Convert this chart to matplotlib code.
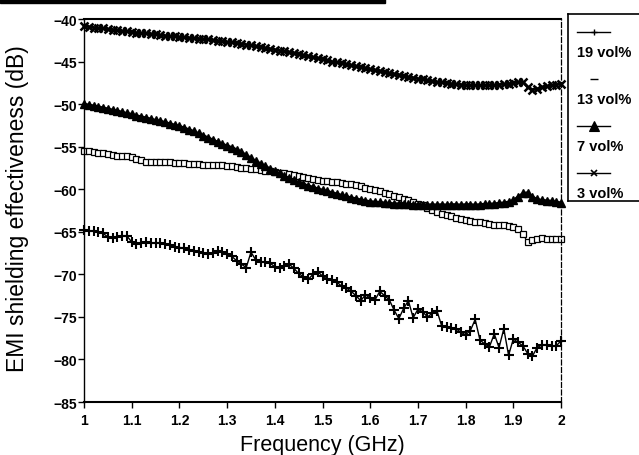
import numpy as np
import matplotlib
matplotlib.use("Agg")
import matplotlib.pyplot as plt
from matplotlib.patches import Rectangle

plt.rcParams['font.family'] = ['Liberation Sans', 'DejaVu Sans']

# frequency grid (GHz), 0.01 step
freq = np.round(np.arange(1.0, 2.0001, 0.01), 2)

# 3 vol% (top curve, x markers)
se_3 = [-40.8, -40.9, -41.0, -41.05, -41.1, -41.2, -41.25, -41.3, -41.4, -41.45,
        -41.55, -41.6, -41.65, -41.7, -41.75, -41.8, -41.9, -41.95, -42.0, -42.05,
        -42.1, -42.15, -42.2, -42.25, -42.3, -42.35, -42.4, -42.5, -42.55, -42.6,
        -42.7, -42.75, -42.85, -42.9, -43.0, -43.1, -43.2, -43.3, -43.4, -43.5,
        -43.6, -43.7, -43.8, -43.9, -44.0, -44.1, -44.25, -44.35, -44.5, -44.6,
        -44.75, -44.85, -45.0, -45.1, -45.2, -45.3, -45.45, -45.55, -45.65, -45.75,
        -45.9, -46.0, -46.1, -46.2, -46.35, -46.45, -46.55, -46.7, -46.8, -46.9,
        -47.0, -47.1, -47.2, -47.3, -47.4, -47.45, -47.5, -47.6, -47.65, -47.7,
        -47.75, -47.8, -47.8, -47.8, -47.8, -47.75, -47.75, -47.7, -47.65, -47.6,
        -47.5, -47.4, -47.4, -48.0, -48.3, -48.2, -48.0, -47.9, -47.8, -47.7,
        -47.6]

# 7 vol% (triangles)
se_7 = [-50.0, -50.1, -50.2, -50.3, -50.45, -50.55, -50.7, -50.8, -50.95, -51.1,
        -51.2, -51.35, -51.5, -51.6, -51.75, -51.9, -52.0, -52.15, -52.3, -52.45,
        -52.6, -52.8, -53.0, -53.2, -53.45, -53.7, -53.95, -54.2, -54.45, -54.7,
        -54.9, -55.1, -55.35, -55.65, -56.0, -56.35, -56.7, -57.0, -57.3, -57.6,
        -57.9, -58.15, -58.45, -58.7, -58.95, -59.2, -59.4, -59.6, -59.75, -59.95,
        -60.1, -60.25, -60.4, -60.55, -60.7, -60.85, -61.0, -61.1, -61.25, -61.35,
        -61.45, -61.5, -61.55, -61.6, -61.65, -61.7, -61.7, -61.75, -61.75, -61.8,
        -61.8, -61.8, -61.85, -61.8, -61.85, -61.8, -61.85, -61.8, -61.8, -61.85,
        -61.8, -61.8, -61.85, -61.8, -61.75, -61.75, -61.7, -61.65, -61.6, -61.5,
        -61.3, -60.9, -60.5, -60.4, -60.9, -61.2, -61.3, -61.35, -61.4, -61.5,
        -61.6]

# 13 vol% (open boxes)
se_13 = [-55.5, -55.55, -55.6, -55.7, -55.8, -55.9, -56.0, -56.05, -56.1, -56.15,
         -56.2, -56.4, -56.6, -56.75, -56.8, -56.8, -56.85, -56.8, -56.85, -56.9,
         -56.9, -56.95, -57.0, -57.0, -57.05, -57.1, -57.1, -57.15, -57.15, -57.2,
         -57.25, -57.3, -57.4, -57.5, -57.55, -57.6, -57.65, -57.7, -57.8, -57.85,
         -57.95, -58.05, -58.15, -58.25, -58.35, -58.45, -58.55, -58.7, -58.8, -58.9,
         -59.0, -59.05, -59.15, -59.2, -59.3, -59.35, -59.4, -59.5, -59.65, -59.8,
         -59.95, -60.1, -60.25, -60.45, -60.6, -60.8, -60.95, -61.1, -61.3, -61.5,
         -61.7, -61.9, -62.15, -62.4, -62.7, -62.9, -63.05, -63.2, -63.35, -63.5,
         -63.65, -63.75, -63.85, -63.9, -64.0, -64.1, -64.15, -64.2, -64.25, -64.3,
         -64.4, -64.7, -65.3, -66.2, -66.0, -65.8, -65.75, -65.8, -65.8, -65.85,
         -65.9]

# 19 vol% (bottom, jagged)
se_19 = [-64.8, -64.9, -64.9, -65.05, -65.2, -65.6, -65.7, -65.6, -65.5, -65.5,
         -66.2, -66.4, -66.3, -66.2, -66.35, -66.3, -66.3, -66.45, -66.6, -66.8,
         -66.85, -66.9, -67.1, -67.3, -67.4, -67.45, -67.6, -67.55, -67.3, -67.4,
         -67.6, -67.9, -68.4, -68.8, -69.2, -67.4, -68.3, -68.6, -68.5, -68.7,
         -69.1, -69.3, -69.0, -68.8, -69.3, -69.9, -70.3, -70.6, -70.0, -69.7,
         -70.2, -70.55, -70.7, -70.9, -71.4, -71.6, -72.0, -72.5, -73.1, -72.4,
         -72.8, -73.0, -72.0, -72.5, -73.0, -74.2, -75.2, -74.0, -73.1, -75.1,
         -74.1, -74.4, -75.0, -74.6, -74.3, -76.1, -76.2, -76.3, -76.4, -76.8,
         -77.1, -76.6, -75.3, -77.7, -78.2, -78.5, -77.0, -78.6, -76.4, -79.5,
         -77.6, -78.0, -78.4, -79.3, -79.6, -78.6, -78.3, -78.3, -78.4, -78.4,
         -77.8]

labels = ['19 vol%', '13 vol%', '7 vol%', '3 vol%']
xticks = [1, 1.1, 1.2, 1.3, 1.4, 1.5, 1.6, 1.7, 1.8, 1.9, 2]
yticks = [-85, -80, -75, -70, -65, -60, -55, -50, -45, -40]

fig = plt.figure(figsize=(6.39, 4.56), dpi=100)
ax = fig.add_axes([0.1315, 0.1162, 0.7465, 0.8399])

styles = {
    '19 vol%': dict(marker='+', ms=6.5, mew=1.5, lw=1.0),
    '13 vol%': dict(marker='s', ms=4.5, mew=0.9, lw=0.8, mfc='white'),
    '7 vol%': dict(marker='^', ms=6, mew=1.0, lw=2.0),
    '3 vol%': dict(marker='x', ms=6, mew=1.8, lw=2.0),
}
series = {'19 vol%': se_19, '13 vol%': se_13, '7 vol%': se_7, '3 vol%': se_3}

for lab in ['13 vol%', '7 vol%', '3 vol%', '19 vol%']:
    ax.plot(freq, series[lab], color='black', clip_on=False, **styles[lab])

ax.set_xlim(1, 2)
ax.set_ylim(-85, -40)
ax.set_xticks(xticks)
ax.set_xticklabels(['1', '1.1', '1.2', '1.3', '1.4', '1.5', '1.6', '1.7', '1.8', '1.9', '2'])
ax.set_yticks(yticks)
ax.tick_params(axis='both', direction='out', length=4, width=1, labelsize=10)
ax.tick_params(axis='y', pad=1)
ax.tick_params(axis='x', pad=4)
for t in ax.get_xticklabels() + ax.get_yticklabels():
    t.set_fontweight('bold')

ax.spines['top'].set_linewidth(1.5)
ax.spines['bottom'].set_linewidth(1.5)
ax.spines['left'].set_linewidth(1.0)
ax.spines['right'].set_linewidth(0.9)
ax.spines['right'].set_linestyle((0, (4, 2)))

ax.set_xlabel('Frequency (GHz)', fontsize=15.5, labelpad=5)
ax.set_ylabel('EMI shielding effectiveness (dB)', fontsize=16.5)
ax.yaxis.set_label_coords(-0.115, 0.508)

# legend box drawn by hand (it runs past the right edge)
lax = fig.add_axes([568 / 639, 1 - 202 / 456, 0.2, 187 / 456])
lax.set_xlim(568, 568 + 0.2 * 639)
lax.set_ylim(202, 15)
lax.set_xticks([])
lax.set_yticks([])
for s in lax.spines.values():
    s.set_linewidth(1.2)
leg_marks = {'19 vol%': dict(marker='+', ms=5, mew=1.0, lw=1.0),
             '13 vol%': dict(marker='_', ms=6, mew=1.0, lw=0),
             '7 vol%': dict(marker='^', ms=7, mew=0.8, lw=1.0),
             '3 vol%': dict(marker='x', ms=5, mew=1.2, lw=1.0)}
for i, lab in enumerate(labels):
    y_line = 33 + i * 47
    lax.plot([577, 593.5, 610], [y_line, y_line, y_line], color='black',
             markevery=[1], **leg_marks[lab])
    lax.text(577, y_line + 20, lab, fontsize=10.5, fontweight='bold',
             ha='left', va='center')

# scan artefact: thick bar at the top left
fig.patches.append(Rectangle((0, 1 - 4 / 456), 385 / 639, 4 / 456,
                             transform=fig.transFigure, color='black'))

fig.savefig('out.png', dpi=100)
